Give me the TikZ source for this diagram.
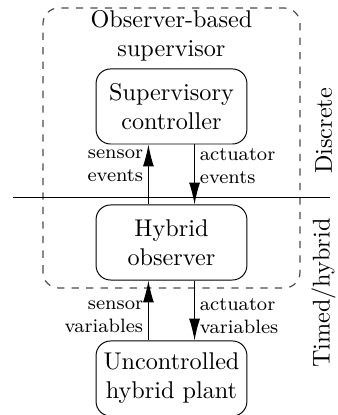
\documentclass[tikz,border=0pt]{standalone}
\usetikzlibrary{arrows.meta}
\begin{document}
\begin{tikzpicture}[
    blk/.style={draw, rounded corners=6pt, align=center,
        minimum width=2.19cm, minimum height=1.09cm, inner sep=1pt},
    arr/.style={-{Latex[length=9pt,width=4.5pt]}},
    lbl/.style={font=\footnotesize, inner sep=2pt},
    side/.style={rotate=90}]

    \useasboundingbox(0, 0) rectangle (4.908, 6.026);

    %%supervisor
    \draw[dashed, black!70, line width=0.5pt, rounded corners=6.5pt](0.624, 1.844) rectangle (4.356, 5.910);
    \node[align=center] (sup) at(2.49, 5.50){Observer-based\\supervisor};

    \node[blk] (ctrl) at(2.49, 4.48){Supervisory\\controller};
    \node[blk] (obs) at(2.49, 2.505){Hybrid\\observer};
    \node[blk] (plant) at(2.49, 0.53){Uncontrolled\\hybrid plant};

    %%layers
    \coordinate (lw) at(0.189, 3.165);
    \coordinate (le) at(4.792, 3.165);
    \draw(lw) to (le);
    \node[side] (disc) at(4.70, 4.124){Discrete};
    \node[side] (timed) at(4.70, 1.771){Timed/hybrid};

    %%signals
    \draw[arr]([xshift=-0.335cm]obs.north) to node[lbl, left, align=right, pos=0.64]{sensor\\events} ([xshift=-0.335cm]ctrl.south);
    \draw[arr]([xshift=0.335cm]ctrl.south) to node[lbl, right, align=left, pos=0.36]{actuator\\events} ([xshift=0.335cm]obs.north);
    \draw[arr]([xshift=-0.335cm]plant.north) to node[lbl, left, align=right, pos=0.40]{sensor\\variables} ([xshift=-0.335cm]obs.south);
    \draw[arr]([xshift=0.335cm]obs.south) to node[lbl, right, align=left, pos=0.60]{actuator\\variables} ([xshift=0.335cm]plant.north);
\end{tikzpicture}
\end{document}
